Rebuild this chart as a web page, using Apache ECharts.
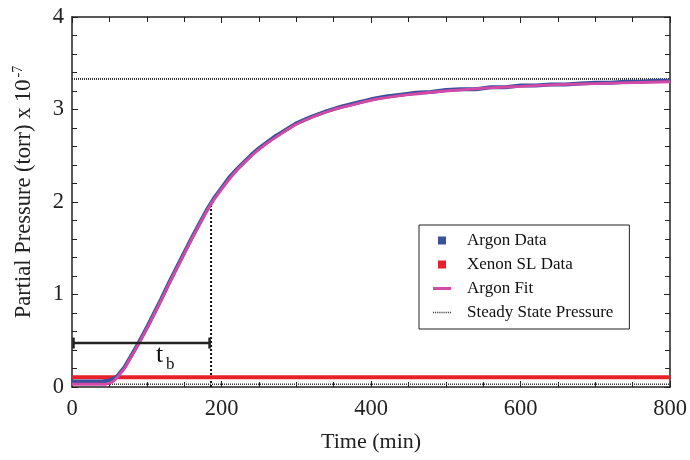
<!DOCTYPE html>
<html>
<head>
<meta charset="utf-8">
<script src="https://cdn.jsdelivr.net/npm/echarts@6/dist/echarts.min.js"></script>
<style>
  html, body { margin: 0; padding: 0; background: #fff; }
  #chart { width: 690px; height: 460px; }
</style>
</head>
<body>
<div id="chart"></div>
<script>
// argon fit curve (min, torr x 1e-7)
const fitT = [0, 10, 20, 30, 40, 45, 50, 55, 60, 65, 70, 75, 80, 90, 100, 110, 120, 130, 140, 150,
  160, 170, 180, 190, 200, 220, 240, 260, 280, 300, 325, 350, 375, 400, 450, 500, 550, 600, 650, 700, 750, 800];
const fitV = [0.03, 0.03, 0.03, 0.03, 0.03, 0.03, 0.04, 0.06, 0.1, 0.15, 0.2, 0.27, 0.34, 0.48, 0.63, 0.79, 0.95, 1.12, 1.28, 1.44,
  1.6, 1.75, 1.9, 2.03, 2.14, 2.34, 2.5, 2.63, 2.74, 2.84, 2.93, 3.0, 3.05, 3.1, 3.16, 3.2, 3.23, 3.25, 3.27, 3.28, 3.29, 3.3];

// argon measured data
const argonT = [0, 20, 40, 50, 60, 70, 80, 90, 100, 110, 120, 130, 140, 150, 160, 170, 180, 190, 200, 210, 220, 230, 240, 250,
  260, 270, 280, 290, 300, 320, 340, 360, 380, 400, 420, 440, 460, 480, 500, 520, 540, 560, 580, 600, 620, 640, 660, 680,
  700, 720, 740, 760, 780, 800];
const argonV = [0.06, 0.06, 0.06, 0.07, 0.11, 0.21, 0.35, 0.49, 0.64, 0.80, 0.96, 1.13, 1.29, 1.45, 1.61, 1.76, 1.91, 2.04, 2.15,
  2.26, 2.35, 2.43, 2.51, 2.58, 2.64, 2.70, 2.75, 2.80, 2.85, 2.92, 2.98, 3.03, 3.07, 3.11, 3.14, 3.16, 3.18, 3.19, 3.21,
  3.22, 3.22, 3.24, 3.24, 3.26, 3.26, 3.27, 3.27, 3.28, 3.29, 3.29, 3.30, 3.30, 3.31, 3.31];

// xenon SL data
const xenonT = [0, 50, 100, 150, 200, 250, 300, 350, 400, 450, 500, 550, 600, 650, 700, 750, 800];
const xenonV = [0.105, 0.105, 0.105, 0.105, 0.105, 0.105, 0.105, 0.105, 0.105, 0.105, 0.105, 0.105, 0.105, 0.105, 0.105, 0.105, 0.105];

const steadyAr = 3.33;
const steadyXe = 0.03;
const tbTime = 186;
const tbValue = 2.0;
const tbBar = [2, 184];
const tbBarY = 0.475;

const xTicks = [0, 200, 400, 600, 800];
const yTicks = [0, 1, 2, 3, 4];

const font = "'Liberation Serif', 'Times New Roman', serif";
const pair = (ts, vs) => ts.map((t, i) => [t, vs[i]]);

const myChart = echarts.init(document.getElementById('chart'));

const axisCommon = {
  axisLine: { show: true, onZero: false, lineStyle: { color: '#222', width: 1.5 } },
  axisTick: { show: true, inside: true, length: 6, lineStyle: { color: '#222', width: 1 } },
  minorTick: { show: true, length: 5, lineStyle: { color: '#222', width: 1 } },
  splitLine: { show: false },
};

const option = {
  animation: false,
  textStyle: { fontFamily: font },
  grid: { left: 72, right: 16, top: 17, bottom: 73 },
  xAxis: [
    Object.assign({}, axisCommon, {
      type: 'value', min: xTicks[0], max: xTicks[xTicks.length - 1], interval: 200,
      minorTick: Object.assign({}, axisCommon.minorTick, { splitNumber: 4 }),
      axisLabel: { color: '#222', fontSize: 22.5, fontFamily: font, margin: 11 },
      name: 'Time (min)', nameLocation: 'middle', nameGap: 44,
      nameTextStyle: { color: '#222', fontSize: 22, fontFamily: font },
    }),
    Object.assign({}, axisCommon, {
      type: 'value', position: 'top', min: 0, max: 800, interval: 200,
      minorTick: Object.assign({}, axisCommon.minorTick, { splitNumber: 4 }),
      axisLabel: { show: false },
    }),
  ],
  yAxis: [
    Object.assign({}, axisCommon, {
      type: 'value', min: yTicks[0], max: yTicks[yTicks.length - 1], interval: 1,
      minorTick: Object.assign({}, axisCommon.minorTick, { splitNumber: 5 }),
      axisLabel: { color: '#222', fontSize: 22.5, fontFamily: font, margin: 8 },
      name: '{a|Partial Pressure (torr) x 10}{s|-7}', nameLocation: 'middle', nameGap: 35,
      nameTextStyle: {
        color: '#222', fontFamily: font,
        rich: {
          a: { fontSize: 22.5, fontFamily: font, color: '#222', padding: [0, 0, 0, 20] },
          s: { fontSize: 14, fontFamily: font, color: '#222', verticalAlign: 'top', padding: [0, 0, 12, 2] },
        },
      },
    }),
    Object.assign({}, axisCommon, {
      type: 'value', position: 'right', min: 0, max: 4, interval: 1,
      minorTick: Object.assign({}, axisCommon.minorTick, { splitNumber: 5 }),
      axisLabel: { show: false },
    }),
  ],
  legend: {
    orient: 'vertical',
    left: 419, top: 225,
    padding: [7, 16, 8, 14],
    borderColor: '#222', borderWidth: 1,
    itemWidth: 18, itemHeight: 8, itemGap: 7,
    textStyle: { fontSize: 17, fontFamily: font, color: '#111', lineHeight: 16, padding: [0, 0, 0, 11] },
    data: [
      { name: 'Argon Data', icon: 'path://M0,0h8v8h-8z' },
      { name: 'Xenon SL Data', icon: 'path://M0,0h8v8h-8z' },
      { name: 'Argon Fit', icon: 'path://M0,0h18v3h-18z' },
      { name: 'Steady State Pressure', icon: 'path://M0,0h1v1.6h-1zM2,0h1v1.6h-1zM4,0h1v1.6h-1zM6,0h1v1.6h-1zM8,0h1v1.6h-1zM10,0h1v1.6h-1zM12,0h1v1.6h-1zM14,0h1v1.6h-1zM16,0h1v1.6h-1z' },
    ],
  },
  series: [
    {
      name: 'Steady State Pressure', type: 'line', symbol: 'none', silent: true,
      data: [[0, steadyAr], [800, steadyAr]],
      color: '#333',
      lineStyle: { color: '#333', width: 2, type: [1, 1] },
    },
    {
      name: 'Steady State Pressure', type: 'line', symbol: 'none', silent: true,
      data: [[0, steadyXe], [800, steadyXe]],
      color: '#333',
      lineStyle: { color: '#333', width: 1.5, type: [1, 1] },
    },
    {
      name: 'breakthrough', type: 'line', symbol: 'none', silent: true,
      data: [[tbTime, 0], [tbTime, tbValue]],
      lineStyle: { color: '#111', width: 2, type: [2, 2] },
    },
    {
      name: 'Xenon SL Data', type: 'line', symbol: 'none',
      data: pair(xenonT, xenonV),
      color: '#e8202a',
      lineStyle: { color: '#e8202a', width: 4 },
    },
    {
      name: 'Argon Data', type: 'line', symbol: 'none',
      data: pair(argonT, argonV),
      color: '#3a4f9e',
      lineStyle: { color: '#3a4f9e', width: 4 },
    },
    {
      name: 'Argon Fit', type: 'line', symbol: 'none', smooth: 0.2,
      data: pair(fitT, fitV),
      color: '#d24aa6',
      lineStyle: { color: '#d24aa6', width: 2.8 },
    },
    {
      name: 'tb', type: 'line', silent: true,
      data: [[tbBar[0], tbBarY], [tbBar[1], tbBarY]],
      symbol: 'rect', symbolSize: [2.5, 11], showSymbol: true,
      itemStyle: { color: '#222' },
      lineStyle: { color: '#222', width: 2.5 },
    },
  ],
  graphic: [
    { type: 'text', left: 156, top: 342, style: { text: 't', font: '26px ' + font, fill: '#111' } },
    { type: 'text', left: 166, top: 356, style: { text: 'b', font: '17px ' + font, fill: '#111' } },
  ],
};

myChart.setOption(option);
</script>
</body>
</html>
